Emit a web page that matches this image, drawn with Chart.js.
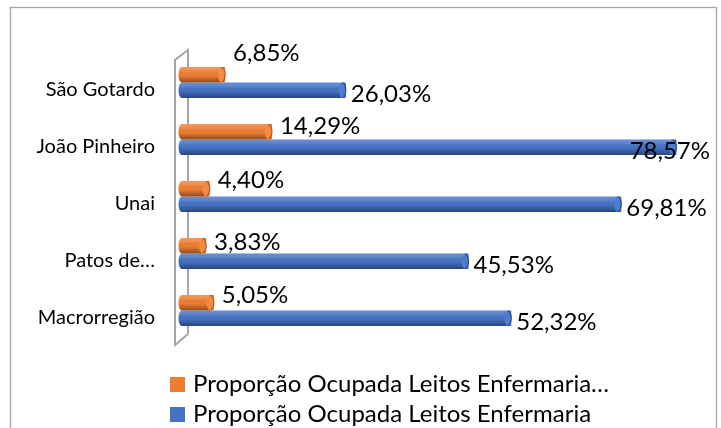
<!DOCTYPE html>
<html><head><meta charset="utf-8">
<script src="https://cdn.jsdelivr.net/npm/chart.js@4/dist/chart.umd.min.js"></script>
<style>html,body{margin:0;padding:0;background:#fff}</style>
</head><body>
<canvas id="c" width="721" height="428"></canvas>
<script>
// ---- data ----
const categories = ['São Gotardo', 'João Pinheiro', 'Unai', 'Patos de…', 'Macrorregião'];
const seriesNames = ['Proporção Ocupada Leitos Enfermaria…', 'Proporção Ocupada Leitos Enfermaria'];
const orangeValues = [6.85, 14.29, 4.40, 3.83, 5.05];
const blueValues = [26.03, 78.57, 69.81, 45.53, 52.32];

// ---- style ----
const FONT = 'Lato, Carlito, Calibri, sans-serif';
const COLORS = ['#ED7D31', '#4472C4'];
const CAPS = ['#F28C45', '#4E7DD0'];
const RIMS = ['#B8561A', '#2A4C8C'];
const orangeNudge = [-21, -5, -8, -3, -7];
const blueNudge = 4;

const fmt = v => v.toFixed(2).replace('.', ',') + '%';

const framePlugin = {
  id: 'frame',
  beforeDraw(chart) {
    const ctx = chart.ctx;
    ctx.save();
    ctx.fillStyle = '#fff';
    ctx.fillRect(0, 0, chart.width, chart.height);
    ctx.strokeStyle = '#a6a6a6';
    ctx.lineWidth = 1.3;
    ctx.strokeRect(10.5, 7.5, chart.width - 15, chart.height + 20);
    ctx.restore();
  },
  beforeDatasetsDraw(chart) {
    const a = chart.chartArea, ctx = chart.ctx;
    ctx.save();
    ctx.strokeStyle = '#a6a6a6';
    ctx.lineWidth = 2;
    ctx.beginPath();
    ctx.moveTo(a.left + 6, a.bottom - 5);
    ctx.lineTo(a.left + 6, a.top - 4);
    ctx.lineTo(a.left - 7, a.top + 6);
    ctx.lineTo(a.left - 7, a.bottom + 6);
    ctx.lineTo(a.left + 6, a.bottom - 5);
    ctx.stroke();
    ctx.restore();
  }
};

const cylPlugin = {
  id: 'cyl',
  afterDatasetsDraw(chart) {
    const ctx = chart.ctx;
    chart.data.datasets.forEach((ds, di) => {
      const meta = chart.getDatasetMeta(di);
      meta.data.forEach(bar => {
        const p = bar.getProps(['x', 'y', 'base', 'height'], true);
        const h = p.height, top = p.y - h / 2;
        const rx = 3.5;
        ctx.save();
        // left end rounding
        ctx.beginPath();
        ctx.ellipse(p.base, p.y, rx, h / 2, 0, Math.PI / 2, Math.PI * 1.5);
        ctx.fillStyle = COLORS[di];
        ctx.fill();
        // shading
        const g = ctx.createLinearGradient(0, top, 0, top + h);
        g.addColorStop(0, 'rgba(255,255,255,0.22)');
        g.addColorStop(0.25, 'rgba(255,255,255,0.12)');
        g.addColorStop(0.55, 'rgba(0,0,0,0.0)');
        g.addColorStop(1, 'rgba(0,0,0,0.40)');
        ctx.fillStyle = g;
        ctx.beginPath();
        ctx.ellipse(p.base, p.y, rx, h / 2, 0, Math.PI / 2, Math.PI * 1.5);
        ctx.lineTo(p.x - rx, top);
        ctx.lineTo(p.x - rx, top + h);
        ctx.closePath();
        ctx.fill();
        // end cap
        ctx.beginPath();
        ctx.ellipse(p.x - rx, p.y, rx, h / 2, 0, 0, Math.PI * 2);
        ctx.fillStyle = CAPS[di];
        ctx.fill();
        ctx.beginPath();
        ctx.ellipse(p.x - rx, p.y, rx, h / 2 - 0.5, 0, -Math.PI / 2, Math.PI / 2);
        ctx.strokeStyle = RIMS[di];
        ctx.lineWidth = 1.2;
        ctx.stroke();
        ctx.restore();
      });
    });
  },
  afterDraw(chart) {
    const ctx = chart.ctx;
    ctx.save();
    ctx.font = '24px ' + FONT;
    ctx.fillStyle = '#000';
    ctx.textBaseline = 'middle';
    ctx.textAlign = 'left';
    const limit = chart.width - 11;
    chart.data.datasets.forEach((ds, di) => {
      const meta = chart.getDatasetMeta(di);
      meta.data.forEach((bar, i) => {
        const t = fmt(ds.data[i]);
        const w = ctx.measureText(t).width;
        let x, y;
        if (di === 0) { x = bar.x + 8; y = bar.y + orangeNudge[i]; }
        else { x = bar.x + 5; y = bar.y + blueNudge; if (x + w > limit) x = limit - w; }
        ctx.fillText(t, x, y);
      });
    });
    // legend
    ctx.font = '24px ' + FONT;
    ctx.textBaseline = 'alphabetic';
    chart.data.datasets.forEach((ds, di) => {
      const yb = 392 + di * 30;
      ctx.fillStyle = COLORS[di];
      ctx.fillRect(170, yb - 15, 15, 15);
      ctx.fillStyle = '#000';
      ctx.fillText(ds.label, 193, yb);
    });
    ctx.restore();
  }
};

new Chart(document.getElementById('c'), {
  type: 'bar',
  data: {
    labels: categories,
    datasets: [
      { label: seriesNames[0], data: orangeValues, backgroundColor: COLORS[0] },
      { label: seriesNames[1], data: blueValues, backgroundColor: COLORS[1] }
    ]
  },
  options: {
    indexAxis: 'y',
    responsive: false,
    animation: false,
    devicePixelRatio: 1,
    layout: { padding: { left: 0, right: 23, top: 54, bottom: 89 } },
    datasets: { bar: { barPercentage: 1, categoryPercentage: 0.545, borderWidth: 0 } },
    scales: {
      x: { display: false, min: 0, max: 82 },
      y: {
        grid: { display: false, drawTicks: false },
        border: { display: false },
        ticks: { color: '#000', font: { family: FONT, size: 20 }, padding: 27, labelOffset: 7 },
        afterFit: s => { s.width = 182; }
      }
    },
    plugins: { legend: { display: false }, tooltip: { enabled: false } }
  },
  plugins: [framePlugin, cylPlugin]
});
</script>
</body></html>
